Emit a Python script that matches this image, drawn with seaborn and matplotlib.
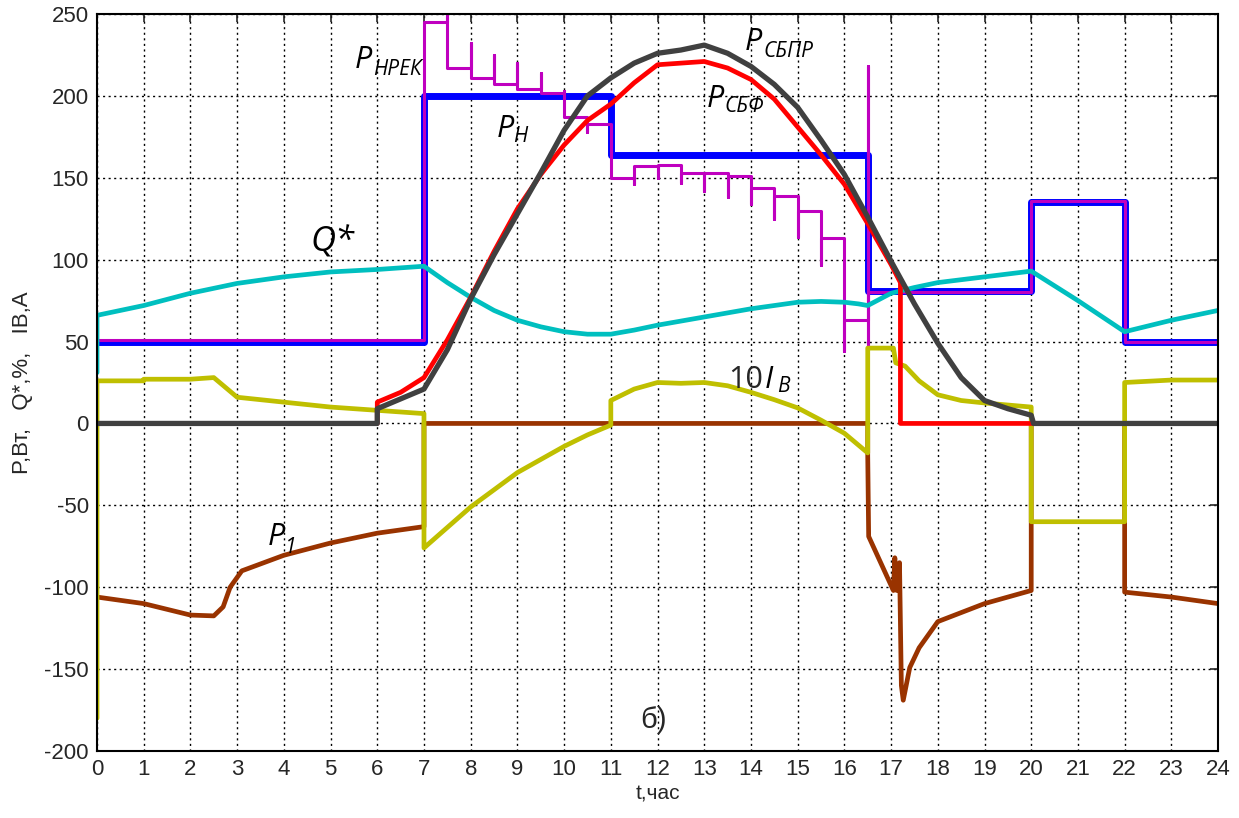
import matplotlib
matplotlib.use("Agg")
import matplotlib.pyplot as plt
import pandas as pd
import seaborn as sns

# P_Н : ступенчатый график нагрузки
load_t = [0, 7, 11, 16.5, 20, 22, 24]
load_v = [50, 200, 164, 81, 135, 50]

# P_НРЕК : нагрузка с регулированием (переход, выброс, новый уровень)
rek_start = 51
rek_t = [7.0, 7.5, 8.0, 8.5, 9.0, 9.5, 10.0, 10.5, 11.0, 11.5, 12.0, 12.5,
         13.0, 13.5, 14.0, 14.5, 15.0, 15.5, 16.0, 16.5]
rek_spike = [241, 249, 232, 225, 220, 214, 203, 178, 183, 146, 150, 147,
             142, 138, 134, 125, 114, 97, 44, 218]
rek_level = [245, 217, 211, 207, 204, 202, 187, 183, 150, 157, 158, 153,
             153, 151, 144, 139, 130, 113, 63, 45]
rek_tail_t = [16.5, 20, 22, 24]
rek_tail_v = [80, 136, 50]

# P_СБФ
sbf_t = [0, 6, 6, 6.5, 7, 7.5, 8, 8.5, 9, 9.5, 10, 10.5, 11, 11.5, 12, 12.5,
         13, 13.5, 14, 14.5, 15, 15.5, 16, 16.5, 17, 17.2, 17.2, 24]
sbf_v = [0, 0, 13, 19, 28, 51, 77, 105, 131, 152, 170, 185, 195, 208, 219, 220,
         221, 217, 210, 198, 181, 164, 146, 122, 97, 86, 0, 0]

# P_СБПР
sbpr_t = [0, 6, 6, 6.5, 7, 7.5, 8, 8.5, 9, 9.5, 10, 10.5, 11, 11.5, 12, 12.5,
          13, 13.5, 14, 14.5, 15, 15.5, 16, 16.5, 17, 17.5, 18, 18.5, 19, 19.5,
          20, 20.05, 24]
sbpr_v = [0, 0, 9, 15, 21, 45, 76, 103, 128, 153, 179, 200, 211, 220, 226, 228,
          231, 226, 218, 207, 193, 173, 152, 126, 99, 73, 49, 28, 14, 9,
          5, 0, 0]

# Q*
q_t = [0, 0, 1, 2, 3, 4, 5, 6, 7, 7.5, 8, 8.5, 9, 9.5, 10, 10.5, 11, 11.5, 12,
       12.5, 13, 13.5, 14, 14.5, 15, 15.5, 16, 16.3, 16.5, 17, 17.5, 18, 19, 20,
       21, 22, 23, 24]
q_v = [31, 66, 72, 79.5, 85.5, 89.5, 92.5, 94, 96, 86, 77, 69, 63, 59, 56, 54.5,
       54.5, 57, 60, 62.5, 65, 67.5, 70, 72, 74, 74.5, 74, 73, 72, 79.5, 83, 86,
       89.5, 93, 75, 56, 63, 69]

# 10 I_B
ib_t = [0, 0, 1, 1, 2, 2.5, 3, 4, 5, 6, 7, 7, 8, 9, 10, 10.5, 11, 11, 11.5, 12,
        12.5, 13, 13.5, 14, 14.5, 15, 15.5, 16, 16.5, 16.5, 17.05, 17.1, 17.3,
        17.6, 18, 18.5, 19, 20, 20, 22, 22, 23, 24]
ib_v = [-180, 26, 26, 27, 27, 28, 16, 13, 10, 8, 6, -76, -51, -30, -14, -7, -1,
        14, 21, 25, 24.5, 25, 23, 19, 14.5, 9.5, 2, -6, -18, 46, 46, 37, 35,
        26, 17.5, 14, 12.5, 10, -60, -60, 25, 26.5, 26.5]

# P_1
p1_t = [0, 1, 2, 2.5, 2.7, 2.85, 3.1, 4, 5, 6, 7, 7, 16.5, 16.5, 16.52, 17.05,
        17.08, 17.12, 17.18, 17.22, 17.26, 17.4, 17.6, 18, 19, 20, 20, 22, 22,
        23, 24]
p1_v = [-106, -110, -117, -117.5, -112, -100, -90, -80.5, -73, -67, -63, 0, 0,
        -20, -69, -102, -82, -102, -85, -160, -169, -149, -137, -121, -110, -102,
        0, 0, -103, -106, -110]

x_ticks = list(range(0, 25))
y_ticks = list(range(-200, 251, 50))


def steps(edges, levels):
    xs, ys = [], []
    for i, v in enumerate(levels):
        xs += [edges[i], edges[i + 1]]
        ys += [v, v]
    return xs, ys


load_x, load_y = steps(load_t, load_v)

rek_x, rek_y = [0], [rek_start]
for t, s, lv in zip(rek_t, rek_spike, rek_level):
    rek_x += [t, t, t]
    rek_y += [rek_y[-1], s, lv]
tx, ty = steps(rek_tail_t, rek_tail_v)
rek_x += tx
rek_y += ty

sns.set_style("white")
plt.rcParams['font.family'] = ['Liberation Sans', 'DejaVu Sans']
plt.rcParams['axes.unicode_minus'] = False

fig = plt.figure(figsize=(12.39, 8.18), dpi=100)
ax = fig.add_axes([0.0783, 0.0819, 0.9048, 0.901])

series = [
    (load_x, load_y, "#0000ff", 5.0),
    (rek_x, rek_y, "#bf00bf", 2.2),
    (q_t, q_v, "#00bfbf", 3.4),
    (p1_t, p1_v, "#993300", 3.4),
    (ib_t, ib_v, "#bfbf00", 3.4),
    (sbf_t, sbf_v, "#ff0000", 3.4),
    (sbpr_t, sbpr_v, "#404040", 3.8),
]
for xs, ys, col, lw in series:
    df = pd.DataFrame({"t": xs, "P": ys})
    sns.lineplot(data=df, x="t", y="P", sort=False, estimator=None,
                 color=col, lw=lw, ax=ax)

ax.set_xlim(0, 24)
ax.set_ylim(-200, 250)
ax.set_xticks(x_ticks)
ax.set_yticks(y_ticks)
ax.grid(True, color="black", linestyle=(0, (1.5, 2.5)), lw=1.0)
ax.set_axisbelow(True)
ax.tick_params(direction="in", length=6, width=1.2, top=True, right=True,
               labelsize=16, pad=6)
for sp in ax.spines.values():
    sp.set_color("black")
    sp.set_linewidth(1.5)
ax.set_xlabel("t,час", fontsize=15, labelpad=3)
ax.set_ylabel("P,Вт,   Q*,%,   IB,A", fontsize=16, labelpad=8)

ital = dict(family=['Open Sans', 'DejaVu Sans'], style='italic',
            ha='left', va='baseline', color='black')
labels = [
    (5.52, 217, "P", 22), (5.91, 213, "НРЕК", 15),
    (8.56, 175, "P", 22), (8.91, 172, "Н", 15),
    (13.87, 228, "P", 22), (14.26, 224, "СБПР", 15),
    (13.06, 193, "P", 22), (13.44, 190, "СБФ", 15),
    (4.56, 105, "Q*", 25),
    (3.66, -74, "P", 22), (4.02, -79, "1", 15),
]
for x, y, s, fs in labels:
    ax.text(x, y, s, fontsize=fs, **ital)
ax.text(13.51, 21.5, "10", fontsize=22, ha='left', va='baseline',
        family=['Open Sans', 'DejaVu Sans'])
ax.text(14.3, 21.5, "I", fontsize=22, **ital)
ax.text(14.56, 19, "B", fontsize=15, **ital)
ax.text(11.62, -186, "б)", fontsize=21, ha='left', va='baseline')

fig.savefig("out.png", dpi=100)
